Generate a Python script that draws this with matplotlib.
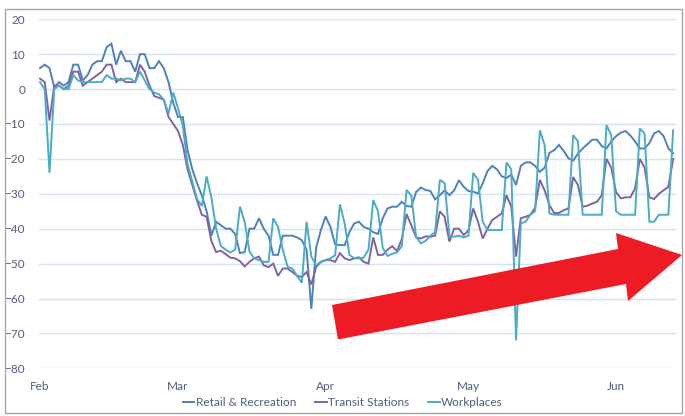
import numpy as np
import pandas as pd
import matplotlib
matplotlib.use('Agg')
import matplotlib.pyplot as plt
import matplotlib.dates as mdates
from matplotlib.patches import Polygon, Rectangle

# daily mobility change (%), Feb 1 - Jun 13
retail = [6, 7, 6, 0.5, 2, 1, 2, 7, 7, 2.5,
          4, 7, 8, 8, 12, 13, 7, 11, 8, 8,
          5, 10, 10, 6, 6, 8, 6, 2, -4, -8,
          -8, -17.5, -23, -27, -30.5, -35, -42, -38, -39, -40,
          -40, -41.5, -47, -46.7, -40, -40, -37, -40, -42, -47.5,
          -47.5, -42, -42, -42, -42.5, -43.3, -46, -63, -45.5, -40.4,
          -36.5, -39.5, -44.5, -44.7, -44.7, -41, -38.5, -38, -39.5, -40,
          -41, -41.5, -37, -34.2, -33.7, -33.7, -32.3, -33.5, -33.7, -29.5,
          -28.2, -28.9, -29.2, -31.6, -30.4, -29, -30.4, -29, -26.1, -28,
          -29.2, -29.4, -29.9, -27, -23.5, -22, -23, -25, -25.5, -24.5,
          -27.5, -22, -21, -21, -22, -23.7, -22.5, -18.3, -17.5, -16,
          -17.7, -19.8, -20.5, -18.5, -17, -15.8, -14.5, -14.5, -16.3, -17,
          -15, -13.5, -12.5, -12, -13.3, -15, -17, -17, -15.5, -12.7,
          -12, -13.5, -17, -18.4]

transit = [3, 2, -9, 1, 1, 0, 1, 5, 5, 1,
           2, 3, 4, 5, 7, 7, 2, 3, 2, 2,
           2, 7, 5, 1, -2, -2.5, -3, -8, -10, -12,
           -16, -23, -27.5, -32, -36, -36.6, -43.5, -46.7, -46.3, -47.3,
           -48.3, -48.5, -49.3, -50.8, -49.5, -48.5, -48, -50.5, -51, -50,
           -53.5, -51.4, -51.4, -52.4, -53.5, -53.8, -52.4, -56, -51, -49.5,
           -49, -49, -49.5, -47, -48.5, -49, -48.5, -48.2, -49.5, -50,
           -42.5, -47.5, -47.5, -46, -45, -46.4, -43, -35.8, -39, -42.5,
           -42.8, -42.2, -42.3, -42, -35, -36.6, -43.7, -40, -40, -41.8,
           -40.5, -34.2, -38, -42.8, -40, -37.5, -36.6, -35.6, -30.4, -33.7,
           -48, -37, -36.6, -36, -34, -26, -29, -33.2, -35.5, -35.5,
           -34.7, -34.2, -25.2, -27.5, -33.7, -33.4, -32.8, -32.3, -30.4, -20,
           -22.5, -29.5, -31.3, -31, -31, -28.5, -20, -22.5, -31, -31.5,
           -30, -29, -28, -20]

workplaces = [2, 0, -24, 0, 1, 0, 0, 4, 2.5, 2,
              2, 2, 2, 2, 4, 3, 3, 2.5, 3, 3,
              2, 5, 2.5, 0, -1, -1.5, -3, -7, -1, -5.5,
              -10.5, -21.5, -26.5, -31.5, -33.5, -25, -31, -40, -45, -46,
              -46.8, -46, -33.7, -38, -46.6, -48.5, -49, -49.5, -49.5, -37,
              -39.5, -46, -50.9, -51.4, -53.5, -55.5, -38, -48, -50.5, -49.5,
              -49, -48.5, -47.6, -33, -38.5, -47.5, -48.5, -48.5, -48.3, -46,
              -31.8, -35, -45.5, -47.8, -47.2, -46.8, -45, -28.9, -30.5, -42.3,
              -44.2, -43.5, -42, -41, -26, -27, -42, -42.3, -42, -42.5,
              -42, -24, -26, -38, -40.4, -40.4, -40.4, -40.4, -21, -23,
              -72, -38.5, -38, -36, -35, -11.8, -16, -35.6, -36, -36,
              -36, -36, -13.2, -15, -36, -36, -36, -36, -36, -10.3,
              -13.2, -35, -36, -36, -36, -36, -11.3, -12.7, -38, -38,
              -36, -36, -36, -11.8]

series_names = ['Retail & Recreation', 'Transit Stations', 'Workplaces']
colors = ['#4F81BD', '#8064A2', '#4BACC6']

dates = pd.date_range('2020-02-01', periods=len(retail), freq='D')

plt.rcParams['font.family'] = ['Lato', 'DejaVu Sans']
text_col = '#4d5d7a'

W, H = 685, 416
fig = plt.figure(figsize=(W / 100, H / 100), dpi=100)
ax = fig.add_axes([39 / W, 1 - 368.3 / H, (676 - 39) / W, (368.3 - 19.3) / H])

for vals, name, c in zip([retail, transit, workplaces], series_names, colors):
    ax.plot(dates, vals, color=c, lw=1.4, label=name, solid_joinstyle='miter')

ax.set_ylim(-80, 20)
ax.set_yticks(np.arange(-80, 21, 10))
ax.set_xlim(dates[0] - pd.Timedelta(hours=5), dates[0] + pd.Timedelta(days=133.6))
ax.xaxis.set_major_locator(mdates.MonthLocator())
ax.xaxis.set_major_formatter(mdates.DateFormatter('%b'))
ax.grid(axis='y', color='#d6e1f1', lw=1)
ax.set_axisbelow(True)
for s in ax.spines.values():
    s.set_visible(False)
ax.tick_params(length=0, labelsize=8.5, colors=text_col)
ax.tick_params(axis='y', pad=10)
ax.tick_params(axis='x', pad=9)

fig.legend(loc='center', bbox_to_anchor=(0.5, 1 - 403 / H), ncol=3, frameon=False,
           fontsize=8.5, labelcolor=text_col, handlelength=1.0, handletextpad=0.1,
           columnspacing=1.6)

# red arrow drawn over the chart (pixel coords of the picture)
arrow_px = [(332, 305), (618, 249), (616, 233), (682, 255), (628, 301), (626, 284), (338, 339.5)]
arrow = Polygon([(x / W, 1 - y / H) for x, y in arrow_px], closed=True,
                transform=fig.transFigure, fc='#ED1C24', ec='none', zorder=10)
fig.patches.append(arrow)

border = Rectangle((5 / W, 1 - 413 / H), (682 - 5) / W, (413 - 9) / H, transform=fig.transFigure,
                   fill=False, ec='#a6a6a6', lw=1)
fig.patches.append(border)

fig.savefig('out.png', dpi=100)
